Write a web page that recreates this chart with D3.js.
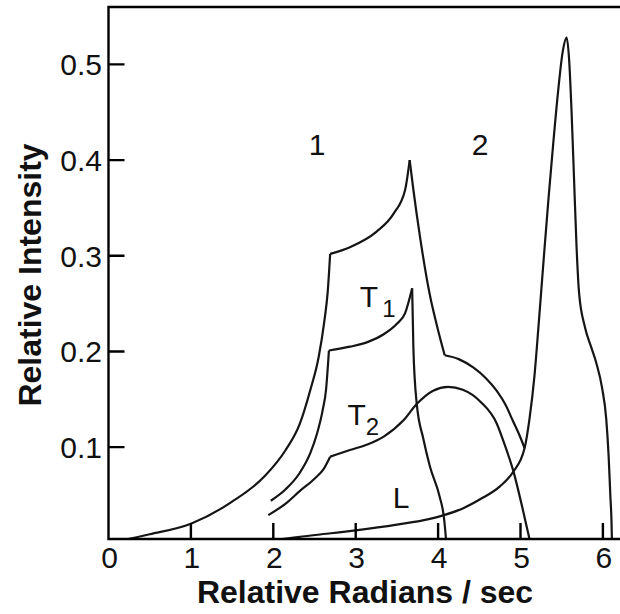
<!doctype html>
<html lang="en">
<head>
    <meta charset="utf-8"/>
    <title>Relative Intensity vs Relative Radians / sec</title>
    <script src="https://d3js.org/d3.v7.min.js"></script>
    <style>
        body { margin: 0; padding: 0; background: #fff; }
        svg text { font-family: "Liberation Sans", Arial, sans-serif; fill: #111; }
    </style>
</head>
<body>
<script>
    // tick values
    const xTicks = [0, 1, 2, 3, 4, 5, 6];
    const yTicks = [0.1, 0.2, 0.3, 0.4, 0.5];

    // curves, split at the sharp corners
    const curveOuter = [
        [[0, 0], [0.5, 0.009], [1.0, 0.020], [1.5, 0.043], [1.9, 0.070], [2.15, 0.097], [2.32, 0.124], [2.45, 0.160], [2.55, 0.194], [2.62, 0.232], [2.66, 0.262], [2.69, 0.302]],
        [[2.69, 0.302], [2.93, 0.309], [3.25, 0.325], [3.46, 0.344], [3.60, 0.369], [3.655, 0.400]],
        [[3.655, 0.400], [3.70, 0.369], [3.78, 0.320], [3.90, 0.259], [3.98, 0.229], [4.08, 0.196]],
        [[4.08, 0.196], [4.25, 0.192], [4.43, 0.183], [4.58, 0.172], [4.71, 0.159], [4.82, 0.144], [4.91, 0.127], [4.98, 0.114], [5.05, 0.099]]
    ];
    const curveT1 = [
        [[1.97, 0.044], [2.15, 0.056], [2.32, 0.073], [2.45, 0.094], [2.53, 0.114], [2.60, 0.139], [2.64, 0.160], [2.675, 0.201]],
        [[2.675, 0.201], [2.93, 0.205], [3.15, 0.210], [3.34, 0.218], [3.50, 0.229], [3.60, 0.240], [3.685, 0.266]],
        [[3.685, 0.266], [3.70, 0.204], [3.74, 0.146], [3.82, 0.109], [3.90, 0.080], [4.02, 0.048], [4.07, 0.027], [4.10, 0]]
    ];
    const curveT2 = [
        [[1.94, 0.029], [2.15, 0.041], [2.32, 0.054], [2.50, 0.067], [2.61, 0.077], [2.69, 0.090]],
        [[2.69, 0.090], [2.93, 0.097], [3.15, 0.103], [3.34, 0.111], [3.58, 0.128], [3.74, 0.145], [3.94, 0.159], [4.12, 0.163], [4.30, 0.160], [4.52, 0.147], [4.71, 0.125], [4.81, 0.102], [4.91, 0.076], [5.03, 0.034], [5.08, 0.015], [5.12, 0]]
    ];
    const curveL = [
        [[1.8, 0], [2.3, 0.006], [2.7, 0.010], [3.0, 0.013], [3.5, 0.019], [3.9, 0.025], [4.07, 0.029], [4.3, 0.036], [4.52, 0.046], [4.75, 0.059], [4.91, 0.074], [5.05, 0.099],
         [5.11, 0.130], [5.17, 0.175], [5.22, 0.228], [5.28, 0.295], [5.34, 0.360], [5.40, 0.420], [5.46, 0.475], [5.51, 0.512], [5.56, 0.528],
         [5.59, 0.505], [5.62, 0.450], [5.65, 0.380], [5.68, 0.310], [5.71, 0.262], [5.78, 0.226], [5.86, 0.204], [5.92, 0.188], [5.99, 0.162], [6.04, 0.130], [6.07, 0.090], [6.09, 0.050], [6.105, 0.020], [6.11, 0]]
    ];

    // labels on the curves
    const labels = [
        {text: "1", sub: "", x: 2.53, y: 0.405, anchor: "middle"},
        {text: "2", sub: "", x: 4.51, y: 0.405, anchor: "middle"},
        {text: "T", sub: "1", x: 3.05, y: 0.246, anchor: "start"},
        {text: "T", sub: "2", x: 2.90, y: 0.123, anchor: "start"},
        {text: "L", sub: "", x: 3.45, y: 0.036, anchor: "start"}
    ];

    const width = 620, height = 614;
    const ink = "#151515";

    const x = d3.scaleLinear().domain([0, 6.25]).range([108.5, 623.5]);
    const y = d3.scaleLinear().domain([0.004, 0.56]).range([539, 7]);

    const svg = d3.select("body").append("svg")
        .attr("width", width)
        .attr("height", height)
        .style("display", "block");

    svg.append("rect").attr("width", width).attr("height", height).attr("fill", "#fff");

    svg.append("clipPath").attr("id", "plotClip")
        .append("rect")
        .attr("x", x(0)).attr("y", y.range()[1])
        .attr("width", x.range()[1] - x(0))
        .attr("height", y.range()[0] - y.range()[1]);

    // curves
    const line = d3.line()
        .x(d => x(d[0]))
        .y(d => y(d[1]))
        .curve(d3.curveMonotoneX);

    const curves = [curveOuter, curveT1, curveT2, curveL];
    const g = svg.append("g").attr("clip-path", "url(#plotClip)");
    curves.forEach(c => {
        g.selectAll(null)
            .data(c)
            .enter()
            .append("path")
            .attr("d", line)
            .attr("fill", "none")
            .attr("stroke", ink)
            .attr("stroke-width", 2.2)
            .attr("stroke-linejoin", "round");
    });

    // frame (left, bottom, top; right edge is off the picture) plus inward ticks
    const x0 = x(0), x1 = x.range()[1], yb = y.range()[0], yt = y.range()[1];
    const tickLen = 16;
    const frame = d3.path();
    frame.moveTo(x1, yt);
    frame.lineTo(x0, yt);
    frame.lineTo(x0, yb);
    frame.lineTo(x1, yb);
    xTicks.filter(v => v > 0).forEach(v => {
        frame.moveTo(x(v), yb);
        frame.lineTo(x(v), yb - tickLen);
    });
    yTicks.forEach(v => {
        frame.moveTo(x0, y(v));
        frame.lineTo(x0 + tickLen, y(v));
    });
    svg.append("path")
        .attr("d", frame.toString())
        .attr("fill", "none")
        .attr("stroke", "#000")
        .attr("stroke-width", 2.4);

    // tick labels
    svg.selectAll(".xlab")
        .data(xTicks)
        .enter()
        .append("text")
        .attr("x", d => x(d) + 1)
        .attr("y", 568)
        .attr("text-anchor", "middle")
        .style("font-size", "30px")
        .text(d => d);

    svg.selectAll(".ylab")
        .data(yTicks)
        .enter()
        .append("text")
        .attr("x", 102)
        .attr("y", d => y(d))
        .attr("dy", "0.36em")
        .attr("text-anchor", "end")
        .style("font-size", "30px")
        .text(d => d3.format(".1f")(d));

    // axis titles
    svg.append("text")
        .attr("x", 365)
        .attr("y", 603)
        .attr("text-anchor", "middle")
        .style("font-size", "32px")
        .style("font-weight", "bold")
        .text("Relative Radians / sec");

    svg.append("text")
        .attr("transform", "translate(41,275) rotate(-90)")
        .attr("text-anchor", "middle")
        .style("font-size", "32px")
        .style("font-weight", "bold")
        .text("Relative Intensity");

    // curve labels
    labels.forEach(l => {
        const t = svg.append("text")
            .attr("x", x(l.x))
            .attr("y", y(l.y))
            .attr("text-anchor", l.anchor)
            .style("font-size", "30px")
            .text(l.text);
        if (l.sub) {
            t.append("tspan")
                .attr("dx", l.sub === "1" ? 4 : 0)
                .attr("dy", 10)
                .style("font-size", "24px")
                .text(l.sub);
        }
    });
</script>
</body>
</html>
